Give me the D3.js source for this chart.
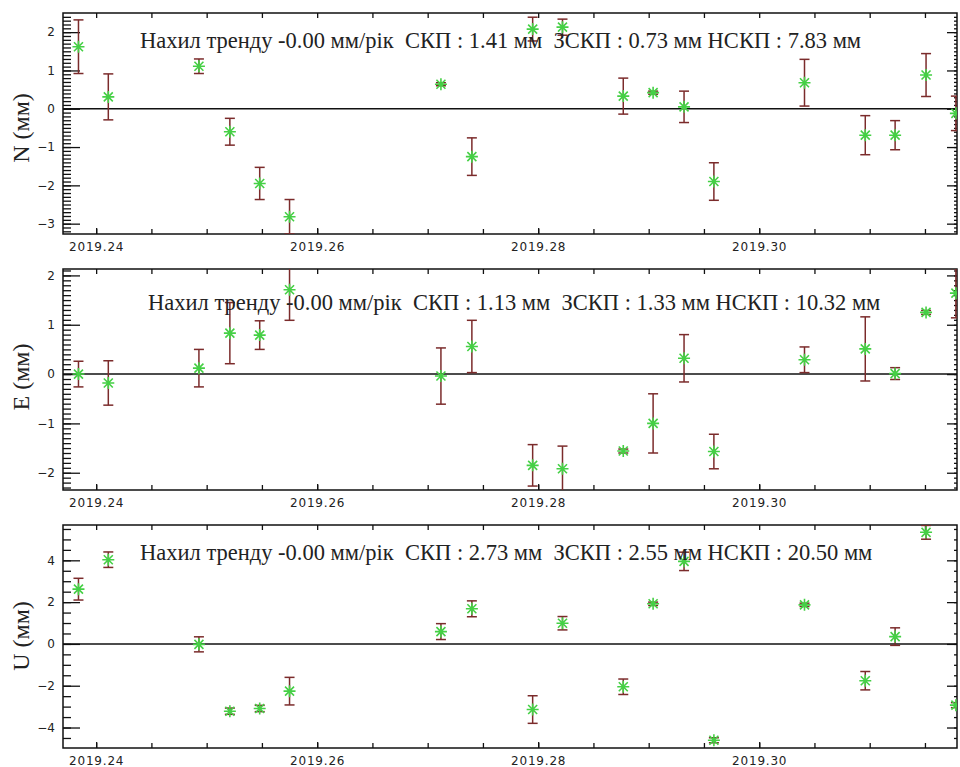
<!DOCTYPE html>
<html lang="uk">
<head>
<meta charset="utf-8">
<script src="https://d3js.org/d3.v7.min.js"></script>
<style>
  body { margin: 0; background: #fff; overflow: hidden; }
  svg { display: block; }
</style>
</head>
<body>
<script>
// epochs (decimal year), one point per day
var epochs = [2019.2384, 2019.2411, 2019.2493, 2019.2521, 2019.2548, 2019.2575, 2019.2712,
  2019.2740, 2019.2795, 2019.2822, 2019.2877, 2019.2904, 2019.2932, 2019.2959,
  2019.3041, 2019.3096, 2019.3123, 2019.3151, 2019.3178];

var nValues = [1.62, 0.31, 1.11, -0.60, -1.95, -2.82, 0.64, -1.25, 2.08, 2.13, 0.33, 0.42, 0.05, -1.90, 0.68, -0.69, -0.69, 0.88, -0.12];
var nSigma  = [0.70, 0.60, 0.19, 0.35, 0.42, 0.45, 0.04, 0.49, 0.31, 0.21, 0.47, 0.04, 0.41, 0.49, 0.61, 0.51, 0.38, 0.56, 0.45];

var eValues = [0.00, -0.18, 0.12, 0.83, 0.79, 1.71, -0.04, 0.56, -1.85, -1.92, -1.56, -1.00, 0.32, -1.57, 0.29, 0.51, 0.01, 1.25, 1.64];
var eSigma  = [0.26, 0.45, 0.38, 0.62, 0.29, 0.62, 0.57, 0.53, 0.42, 0.46, 0.04, 0.60, 0.48, 0.35, 0.26, 0.65, 0.12, 0.04, 0.50];

var uValues = [2.62, 4.03, -0.02, -3.22, -3.09, -2.26, 0.59, 1.68, -3.14, 0.99, -2.05, 1.92, 3.95, -4.61, 1.87, -1.76, 0.35, 5.34, -2.93];
var uSigma  = [0.52, 0.37, 0.36, 0.15, 0.15, 0.66, 0.38, 0.38, 0.66, 0.32, 0.37, 0.08, 0.44, 0.12, 0.08, 0.44, 0.42, 0.33, 0.12];

var components = ["N", "E", "U"];
var trend = ["-0.00", "-0.00", "-0.00"];
var rms   = ["1.41", "1.13", "2.73"];
var wrms  = ["0.73", "1.33", "2.55"];
var nrms  = ["7.83", "10.32", "20.50"];

var xDomain = [2019.2370, 2019.3179];
var xMajor = [2019.24, 2019.26, 2019.28, 2019.30];
var xMinorStep = 0.005;

var yDomains = [[-3.27, 2.50], [-2.35, 2.13], [-4.98, 5.69]];
var yMajor = [[-3, -2, -1, 0, 1, 2], [-2, -1, 0, 1, 2], [-4, -2, 0, 2, 4]];
var yMinorStep = [0.1, 0.1, 0.5];

var series = [
  {values: nValues, sigma: nSigma},
  {values: eValues, sigma: eSigma},
  {values: uValues, sigma: uSigma}
];

// layout of the three stacked panels
var W = 960, H = 767;
var left = 63, right = 957;
var panels = [
  {top: 13, bottom: 234, textX: 140, textY: 48, titleY: 128},
  {top: 269, bottom: 490, textX: 148, textY: 310, titleY: 377},
  {top: 525, bottom: 748, textX: 140, textY: 560, titleY: 636}
];

var svg = d3.select("body").append("svg")
  .attr("width", W)
  .attr("height", H);

var x = d3.scaleLinear().domain(xDomain).range([left, right]);
var xMinor = d3.range(2019.24, xDomain[1], xMinorStep);

var green = "#45d045";
var barColor = "#7b2b2b";
var axisFont = "'DejaVu Sans', sans-serif";
var serif = "'Liberation Serif', 'Times New Roman', serif";

panels.forEach(function(p, k) {
  var y = d3.scaleLinear().domain(yDomains[k]).range([p.bottom, p.top]);
  var g = svg.append("g");

  g.append("clipPath").attr("id", "clip" + k)
    .append("rect")
    .attr("x", left).attr("y", p.top)
    .attr("width", right - left).attr("height", p.bottom - p.top);

  // minor ticks on y axes
  var yMin = d3.range(Math.ceil(yDomains[k][0] / yMinorStep[k]) * yMinorStep[k], yDomains[k][1], yMinorStep[k]);
  g.append("g")
    .attr("transform", "translate(" + left + ",0)")
    .call(d3.axisRight(y).tickValues(yMin).tickSize(8).tickFormat(""))
    .call(function(s) { s.select(".domain").remove(); });
  g.append("g")
    .attr("transform", "translate(" + right + ",0)")
    .call(d3.axisLeft(y).tickValues(yMin).tickSize(3).tickFormat(""))
    .call(function(s) { s.select(".domain").remove(); });

  // major y ticks + labels
  var yl = g.append("g")
    .attr("transform", "translate(" + left + ",0)")
    .call(d3.axisRight(y).tickValues(yMajor[k]).tickSize(17).tickFormat(d3.format("d")));
  yl.select(".domain").remove();
  yl.selectAll("text")
    .attr("x", -8)
    .attr("text-anchor", "end")
    .style("font-family", axisFont)
    .style("font-size", "12px")
    .attr("fill", "#222");
  g.append("g")
    .attr("transform", "translate(" + right + ",0)")
    .call(d3.axisLeft(y).tickValues(yMajor[k]).tickSize(10).tickFormat(""))
    .call(function(s) { s.select(".domain").remove(); });

  // x ticks on top and bottom
  g.append("g")
    .attr("transform", "translate(0," + p.top + ")")
    .call(d3.axisBottom(x).tickValues(xMinor).tickSize(5).tickFormat(""))
    .call(function(s) { s.select(".domain").remove(); });
  var xb = g.append("g")
    .attr("transform", "translate(0," + p.bottom + ")")
    .call(d3.axisTop(x).tickValues(xMinor).tickSize(5).tickFormat(""));
  xb.select(".domain").remove();
  var xl = g.append("g")
    .attr("transform", "translate(0," + p.bottom + ")")
    .call(d3.axisTop(x).tickValues(xMajor).tickSize(6).tickFormat(d3.format(".2f")));
  xl.select(".domain").remove();
  xl.selectAll("text")
    .attr("y", 17)
    .attr("dy", 0)
    .style("font-family", axisFont)
    .style("font-size", "12px")
    .style("letter-spacing", "0.8px")
    .attr("fill", "#222");

  g.selectAll(".tick line").attr("stroke", "#111").attr("stroke-width", 1.3);

  // frame
  g.append("rect")
    .attr("x", left).attr("y", p.top)
    .attr("width", right - left).attr("height", p.bottom - p.top)
    .attr("fill", "none")
    .attr("stroke", "#111")
    .attr("stroke-width", 1.5);

  // zero line
  g.append("line")
    .attr("x1", left).attr("x2", right)
    .attr("y1", y(0)).attr("y2", y(0))
    .attr("stroke", "#111")
    .attr("stroke-width", 1.5);

  // y title
  g.append("text")
    .attr("transform", "translate(29," + p.titleY + ") rotate(-90)")
    .attr("text-anchor", "middle")
    .style("font-family", serif)
    .style("font-size", "24px")
    .attr("fill", "#222")
    .text(components[k] + " (мм)");

  var s = series[k];
  var pts = epochs.map(function(t, i) { return {t: t, v: s.values[i], e: s.sigma[i]}; });
  var plot = g.append("g").attr("clip-path", "url(#clip" + k + ")");

  // error bars
  var eb = plot.selectAll(".eb").data(pts).enter().append("g")
    .attr("stroke", barColor)
    .attr("stroke-width", 1.5);
  eb.append("line")
    .attr("x1", function(d) { return x(d.t); }).attr("x2", function(d) { return x(d.t); })
    .attr("y1", function(d) { return y(d.v + d.e); }).attr("y2", function(d) { return y(d.v - d.e); });
  eb.append("line")
    .attr("x1", function(d) { return x(d.t) - 5; }).attr("x2", function(d) { return x(d.t) + 5; })
    .attr("y1", function(d) { return y(d.v + d.e); }).attr("y2", function(d) { return y(d.v + d.e); });
  eb.append("line")
    .attr("x1", function(d) { return x(d.t) - 5; }).attr("x2", function(d) { return x(d.t) + 5; })
    .attr("y1", function(d) { return y(d.v - d.e); }).attr("y2", function(d) { return y(d.v - d.e); });

  // asterisk markers
  var r = 6, rd = 4.5;
  var star = "M0," + (-r) + "V" + r + "M" + (-r) + ",0H" + r +
    "M" + (-rd) + "," + (-rd) + "L" + rd + "," + rd + "M" + (-rd) + "," + rd + "L" + rd + "," + (-rd);
  plot.selectAll(".pt").data(pts).enter().append("path")
    .attr("transform", function(d) { return "translate(" + x(d.t) + "," + y(d.v) + ")"; })
    .attr("d", star)
    .attr("fill", "none")
    .attr("stroke", green)
    .attr("stroke-width", 1.6);

  // statistics text
  g.append("text")
    .attr("x", p.textX)
    .attr("y", p.textY)
    .attr("xml:space", "preserve")
    .style("white-space", "pre")
    .style("font-family", serif)
    .style("font-size", "22.5px")
    .attr("fill", "#222")
    .text("Нахил тренду " + trend[k] + " мм/рік  СКП : " + rms[k] + " мм  ЗСКП : " + wrms[k] + " мм НСКП : " + nrms[k] + " мм");
});
</script>
</body>
</html>
